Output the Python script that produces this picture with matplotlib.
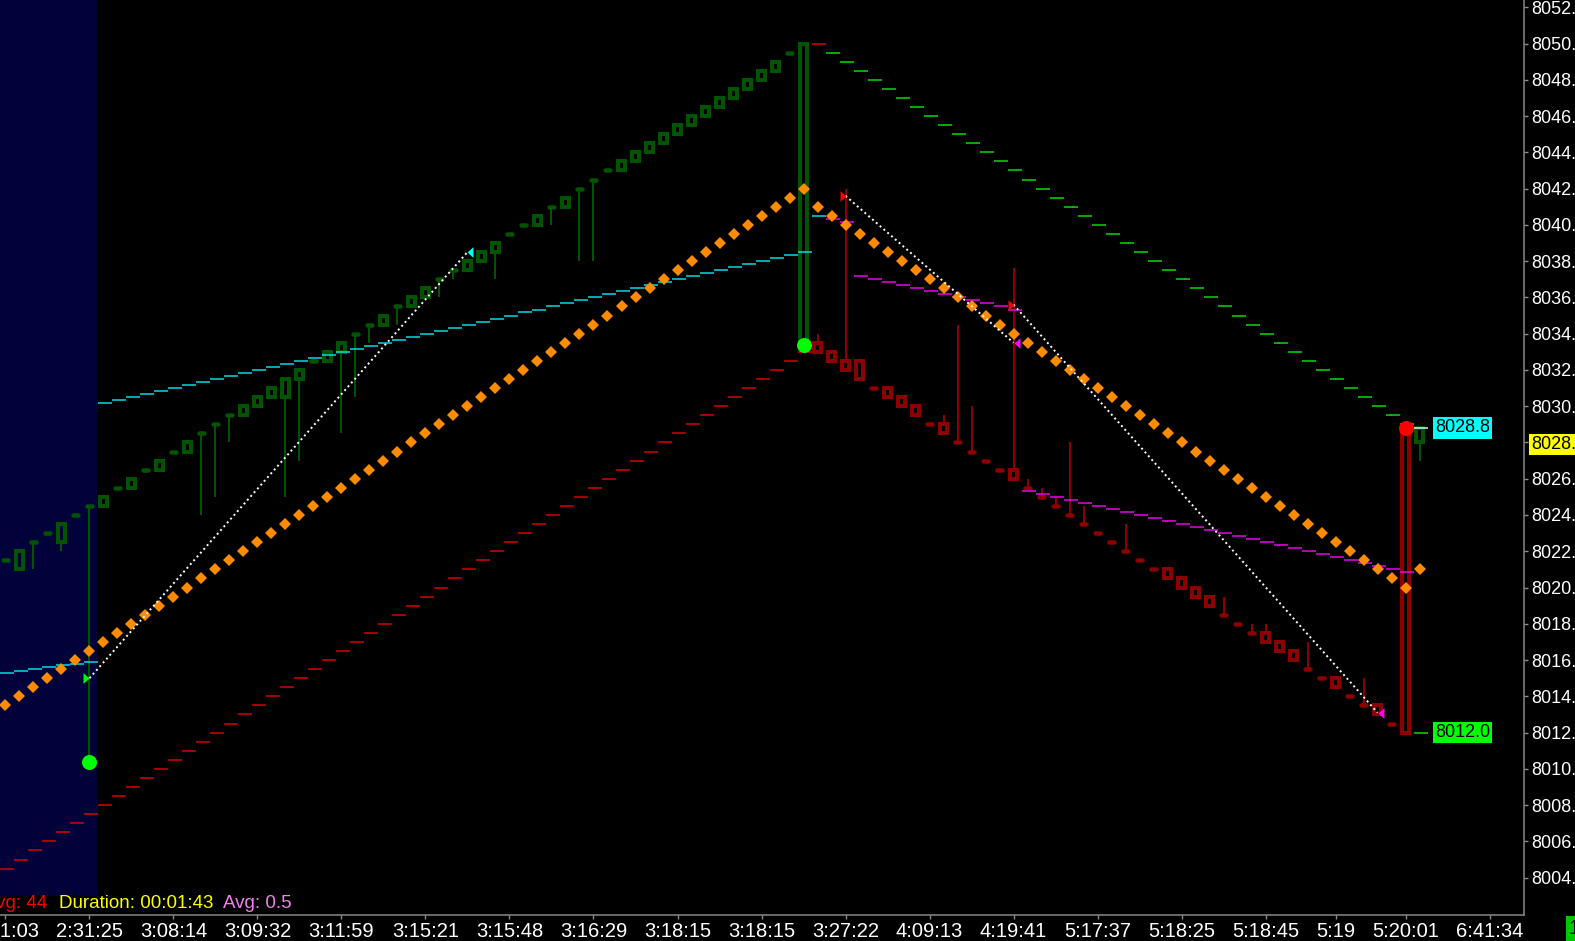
import matplotlib
matplotlib.use("Agg")
import matplotlib.pyplot as plt
from matplotlib.patches import Rectangle

""" -------------------- chart data ---------------------- """
# one candle per bar (bar index = position on the x axis)
bar_open = [8021.5, 8021.0, 8022.5, 8023.0, 8022.5, 8024.0, 8024.5, 8024.5, 8025.5, 8025.5,
            8026.5, 8026.5, 8027.5, 8027.5, 8028.5, 8029.0, 8029.5, 8029.5, 8030.0, 8030.5,
            8030.5, 8031.5, 8032.5, 8032.5, 8033.0, 8034.0, 8034.5, 8034.5, 8035.5, 8035.5,
            8036.0, 8037.0, 8037.5, 8037.5, 8038.0, 8038.5, 8039.5, 8040.0, 8040.0, 8041.0,
            8041.0, 8042.0, 8042.5, 8043.0, 8043.0, 8043.5, 8044.0, 8044.5, 8045.0, 8045.5,
            8046.0, 8046.5, 8047.0, 8047.5, 8048.0, 8048.5, 8049.5, 8033.5, 8033.5, 8033.0,
            8032.5, 8032.5, 8031.0, 8031.0, 8030.5, 8030.0, 8029.0, 8029.0, 8028.0, 8027.5,
            8027.0, 8026.5, 8026.5, 8025.5, 8025.0, 8024.5, 8024.0, 8023.5, 8023.0, 8022.5,
            8022.0, 8021.5, 8021.0, 8021.0, 8020.5, 8020.0, 8019.5, 8018.5, 8018.0, 8017.5,
            8017.5, 8017.0, 8016.5, 8015.5, 8015.0, 8015.0, 8014.0, 8013.5, 8013.5, 8012.5,
            8028.8, 8028.0]
bar_high = [8021.5, 8022.0, 8022.5, 8023.0, 8023.5, 8024.0, 8024.5, 8025.0, 8025.5, 8026.0,
            8026.5, 8027.0, 8027.5, 8028.0, 8028.5, 8029.0, 8029.5, 8030.0, 8030.5, 8031.0,
            8031.5, 8032.0, 8032.5, 8033.0, 8033.5, 8034.0, 8034.5, 8035.0, 8035.5, 8036.0,
            8036.5, 8037.0, 8037.5, 8038.0, 8038.5, 8039.0, 8039.5, 8040.0, 8040.5, 8041.0,
            8041.5, 8042.0, 8042.5, 8043.0, 8043.5, 8044.0, 8044.5, 8045.0, 8045.5, 8046.0,
            8046.5, 8047.0, 8047.5, 8048.0, 8048.5, 8049.0, 8049.5, 8050.0, 8034.0, 8033.0,
            8042.0, 8032.5, 8031.0, 8031.0, 8030.5, 8030.0, 8029.0, 8029.5, 8034.5, 8030.0,
            8027.0, 8026.5, 8037.6, 8026.0, 8025.5, 8025.0, 8028.0, 8024.5, 8023.0, 8022.5,
            8023.5, 8021.5, 8021.0, 8021.0, 8020.5, 8020.0, 8019.5, 8019.5, 8018.0, 8018.0,
            8018.0, 8017.0, 8016.5, 8017.0, 8015.0, 8015.0, 8014.0, 8015.0, 8013.5, 8012.5,
            8028.8, 8028.8]
bar_low = [8021.5, 8021.0, 8021.0, 8023.0, 8022.0, 8024.0, 8010.4, 8024.5, 8025.5, 8025.5,
           8026.5, 8026.5, 8027.5, 8027.5, 8024.0, 8025.0, 8028.0, 8029.5, 8030.0, 8030.5,
           8025.0, 8027.0, 8032.5, 8032.5, 8028.5, 8030.5, 8033.5, 8034.5, 8034.5, 8035.5,
           8036.0, 8036.0, 8037.0, 8037.5, 8038.0, 8037.0, 8039.5, 8040.0, 8040.0, 8040.0,
           8041.0, 8038.0, 8038.0, 8043.0, 8043.0, 8043.5, 8044.0, 8044.5, 8045.0, 8045.5,
           8046.0, 8046.5, 8047.0, 8047.5, 8048.0, 8048.5, 8049.5, 8033.4, 8033.0, 8032.5,
           8032.0, 8031.5, 8031.0, 8030.5, 8030.0, 8029.5, 8029.0, 8028.5, 8028.0, 8027.5,
           8027.0, 8026.5, 8026.0, 8025.5, 8025.0, 8024.5, 8024.0, 8023.5, 8023.0, 8022.5,
           8022.0, 8021.5, 8021.0, 8020.5, 8020.0, 8019.5, 8019.0, 8018.5, 8018.0, 8017.5,
           8017.0, 8016.5, 8016.0, 8015.5, 8015.0, 8014.5, 8014.0, 8013.5, 8013.0, 8012.5,
           8012.0, 8027.0]
bar_close = [8021.5, 8022.0, 8022.5, 8023.0, 8023.5, 8024.0, 8024.5, 8025.0, 8025.5, 8026.0,
             8026.5, 8027.0, 8027.5, 8028.0, 8028.5, 8029.0, 8029.5, 8030.0, 8030.5, 8031.0,
             8031.5, 8032.0, 8032.5, 8033.0, 8033.5, 8034.0, 8034.5, 8035.0, 8035.5, 8036.0,
             8036.5, 8037.0, 8037.5, 8038.0, 8038.5, 8039.0, 8039.5, 8040.0, 8040.5, 8041.0,
             8041.5, 8042.0, 8042.5, 8043.0, 8043.5, 8044.0, 8044.5, 8045.0, 8045.5, 8046.0,
             8046.5, 8047.0, 8047.5, 8048.0, 8048.5, 8049.0, 8049.5, 8050.0, 8033.0, 8032.5,
             8032.0, 8031.5, 8031.0, 8030.5, 8030.0, 8029.5, 8029.0, 8028.5, 8028.0, 8027.5,
             8027.0, 8026.5, 8026.0, 8025.5, 8025.0, 8024.5, 8024.0, 8023.5, 8023.0, 8022.5,
             8022.0, 8021.5, 8021.0, 8020.5, 8020.0, 8019.5, 8019.0, 8018.5, 8018.0, 8017.5,
             8017.0, 8016.5, 8016.0, 8015.5, 8015.0, 8014.5, 8014.0, 8013.5, 8013.0, 8012.5,
             8012.0, 8028.8]

# orange dotted study, one value per bar
orange_dots = [8013.5, 8014.0, 8014.5, 8015.0, 8015.5, 8016.0, 8016.5, 8017.0, 8017.5, 8018.0,
               8018.5, 8019.0, 8019.5, 8020.0, 8020.5, 8021.0, 8021.5, 8022.0, 8022.5, 8023.0,
               8023.5, 8024.0, 8024.5, 8025.0, 8025.5, 8026.0, 8026.5, 8027.0, 8027.5, 8028.0,
               8028.5, 8029.0, 8029.5, 8030.0, 8030.5, 8031.0, 8031.5, 8032.0, 8032.5, 8033.0,
               8033.5, 8034.0, 8034.5, 8035.0, 8035.5, 8036.0, 8036.5, 8037.0, 8037.5, 8038.0,
               8038.5, 8039.0, 8039.5, 8040.0, 8040.5, 8041.0, 8041.5, 8042.0, 8041.0, 8040.5,
               8040.0, 8039.5, 8039.0, 8038.5, 8038.0, 8037.5, 8037.0, 8036.5, 8036.0, 8035.5,
               8035.0, 8034.5, 8034.0, 8033.5, 8033.0, 8032.5, 8032.0, 8031.5, 8031.0, 8030.5,
               8030.0, 8029.5, 8029.0, 8028.5, 8028.0, 8027.5, 8027.0, 8026.5, 8026.0, 8025.5,
               8025.0, 8024.5, 8024.0, 8023.5, 8023.0, 8022.5, 8022.0, 8021.5, 8021.0, 8020.5,
               8020.0, 8021.0]

# lower (red) band, bars 0..57
lower_band_start = 0
lower_band = [8004.5, 8005.0, 8005.5, 8006.0, 8006.5, 8007.0, 8007.5, 8008.0, 8008.5, 8009.0,
              8009.5, 8010.0, 8010.5, 8011.0, 8011.5, 8012.0, 8012.5, 8013.0, 8013.5, 8014.0,
              8014.5, 8015.0, 8015.5, 8016.0, 8016.5, 8017.0, 8017.5, 8018.0, 8018.5, 8019.0,
              8019.5, 8020.0, 8020.5, 8021.0, 8021.5, 8022.0, 8022.5, 8023.0, 8023.5, 8024.0,
              8024.5, 8025.0, 8025.5, 8026.0, 8026.5, 8027.0, 8027.5, 8028.0, 8028.5, 8029.0,
              8029.5, 8030.0, 8030.5, 8031.0, 8031.5, 8032.0, 8032.5, 8033.0]

# upper (green) band, bars 58..100
upper_band_start = 58
upper_band = [8050.0, 8049.5, 8049.0, 8048.5, 8048.0, 8047.5, 8047.0, 8046.5, 8046.0, 8045.5,
              8045.0, 8044.5, 8044.0, 8043.5, 8043.0, 8042.5, 8042.0, 8041.5, 8041.0, 8040.5,
              8040.0, 8039.5, 8039.0, 8038.5, 8038.0, 8037.5, 8037.0, 8036.5, 8036.0, 8035.5,
              8035.0, 8034.5, 8034.0, 8033.5, 8033.0, 8032.5, 8032.0, 8031.5, 8031.0, 8030.5,
              8030.0, 8029.5, 8029.0]

# cyan average, bars 0..58
cyan_start = 0
cyan_line = [8015.3, 8015.4, 8015.5, 8015.6, 8015.7, 8015.8, 8015.9, 8030.17, 8030.33, 8030.50,
             8030.67, 8030.83, 8031.00, 8031.17, 8031.33, 8031.50, 8031.67, 8031.83, 8032.00, 8032.17,
             8032.33, 8032.50, 8032.67, 8032.83, 8033.00, 8033.17, 8033.33, 8033.50, 8033.67, 8033.83,
             8034.00, 8034.17, 8034.33, 8034.50, 8034.67, 8034.83, 8035.00, 8035.17, 8035.33, 8035.50,
             8035.67, 8035.83, 8036.00, 8036.17, 8036.33, 8036.50, 8036.67, 8036.83, 8037.00, 8037.17,
             8037.33, 8037.50, 8037.67, 8037.83, 8038.00, 8038.17, 8038.33, 8038.50, 8040.47]

# magenta average, bars 59..100
magenta_start = 59
magenta_line = [8040.31, 8040.14, 8037.17, 8037.00, 8036.83, 8036.67, 8036.50, 8036.33, 8036.17, 8036.00,
                8035.83, 8035.67, 8035.50, 8035.33, 8025.33, 8025.17, 8025.00, 8024.83, 8024.67, 8024.50,
                8024.33, 8024.17, 8024.00, 8023.83, 8023.67, 8023.50, 8023.33, 8023.17, 8023.00, 8022.83,
                8022.67, 8022.50, 8022.33, 8022.17, 8022.00, 8021.83, 8021.67, 8021.50, 8021.33, 8021.17,
                8021.00, 8020.83]

# swing markers and trend lines
right_tri_bars = [6, 60, 72]
right_tri_prices = [8015.0, 8041.6, 8035.6]
right_tri_colors = ['#00ff00', '#ff0000', '#ff0000']
left_tri_bars = [33, 72, 98]
left_tri_prices = [8038.5, 8033.5, 8013.1]
left_tri_colors = ['#00ffff', '#ff00ff', '#ff00ff']
trend_from = [(6, 8015.0), (60, 8041.6), (72, 8035.6)]
trend_to = [(33, 8038.5), (72, 8033.5), (98, 8013.1)]

dot_bars = [6, 57, 100]
dot_prices = [8010.4, 8033.4, 8028.8]
dot_colors = ['#00ff00', '#00ff00', '#ff0000']

last_price = 8028.8
low_price = 8012.0
highlight_tick = 8028

tick_bars = [0, 6, 12, 18, 24, 30, 36, 42, 48, 54, 60, 66, 72, 78, 84, 90, 95, 100, 106]
tick_labels = ['2:21:03', '2:31:25', '3:08:14', '3:09:32', '3:11:59', '3:15:21', '3:15:48',
               '3:16:29', '3:18:15', '3:18:15', '3:27:22', '4:09:13', '4:19:41', '5:17:37',
               '5:18:25', '5:18:45', '5:19', '5:20:01', '6:41:34']
price_ticks = [8004, 8006, 8008, 8010, 8012, 8014, 8016, 8018, 8020, 8022, 8024, 8026, 8028,
               8030, 8032, 8034, 8036, 8038, 8040, 8042, 8044, 8046, 8048, 8050, 8052]

""" -------------------- style ---------------------- """
W, H = 1575, 941
PX = 0.72  # points per pixel at 100 dpi
plt.rcParams['font.family'] = ['Liberation Sans', 'DejaVu Sans']

UP_COL = '#005400'
DN_COL = '#8c0000'

fig = plt.figure(figsize=(W / 100, H / 100), dpi=100)
fig.set_facecolor('black')
ax = fig.add_axes([0, (H - 915) / H, 1524 / W, 915 / H])
ax.set_facecolor('black')
ax.set_xlim(-0.39, 108.46)
ax.set_ylim(8001.94, 8052.40)

# navy session shading
ax.axvspan(-0.5, 6.55, ymin=(915 - 896) / 915, ymax=1, color='#02023a', zorder=0, lw=0)

""" -------------------- candles ---------------------- """
n = len(bar_close)
for k in range(n):
    o, h, l, c = bar_open[k], bar_high[k], bar_low[k], bar_close[k]
    col = UP_COL if k == 0 or c >= bar_close[k - 1] else DN_COL
    lo_b, hi_b = min(o, c), max(o, c)
    if hi_b > lo_b:
        ax.add_patch(Rectangle((k - 0.25, lo_b), 0.5, hi_b - lo_b, fill=False,
                               ec=col, lw=4 * PX, zorder=2))
    else:
        ax.plot([k - 0.2, k + 0.2], [o, o], color=col, lw=4.5 * PX,
                solid_capstyle='round', zorder=2)
    if h > hi_b:
        ax.vlines(k, hi_b, h, color=col, lw=2 * PX, zorder=2)
    if l < lo_b:
        ax.vlines(k, l, lo_b, color=col, lw=2 * PX, zorder=2)

""" -------------------- bands and averages (one dash per bar) ---------------------- """
def dashes(start, values, color):
    xs = [start + i for i in range(len(values))]
    ax.hlines(values, [x - 0.4 for x in xs], [x + 0.6 for x in xs],
              colors=color, lw=1.5 * PX, zorder=3)

dashes(lower_band_start, lower_band, '#dc0000')
dashes(upper_band_start, upper_band[:1], '#e00000')
dashes(upper_band_start + 1, upper_band[1:], '#00e000')
dashes(cyan_start, cyan_line, '#00e0e8')
dashes(magenta_start, magenta_line, '#f000f0')

# leader lines for the price boxes
dashes(n - 1, [last_price], '#d8ffff')
dashes(n - 1, [low_price], '#00e000')

ax.plot(range(n), orange_dots, 'D', color='#ff8c00', ms=6.2, mew=0, ls='none', zorder=4)

""" -------------------- trend lines and markers ---------------------- """
for (x0, y0), (x1, y1) in zip(trend_from, trend_to):
    ax.plot([x0, x1], [y0, y1], color='white', lw=1.4, ls=(0, (1, 1.6)), zorder=5)

tri_r = [(0, 0), (-1, 0.9), (-1, -0.9), (0, 0)]
tri_l = [(0, 0), (1, 0.9), (1, -0.9), (0, 0)]
for xb, yp, cl in zip(right_tri_bars, right_tri_prices, right_tri_colors):
    ax.plot(xb, yp, marker=tri_r, ms=8.6, color=cl, mew=0, zorder=6)
for xb, yp, cl in zip(left_tri_bars, left_tri_prices, left_tri_colors):
    ax.plot(xb, yp, marker=tri_l, ms=8.6, color=cl, mew=0, zorder=6)

for xb, yp, cl in zip(dot_bars, dot_prices, dot_colors):
    ax.plot(xb, yp, 'o', ms=10.8, color=cl, mew=0, zorder=6)

# price boxes at the right of the last bar
ax.text(n + 0.1, last_price, f'{last_price:.1f}', fontsize=13, color='black',
        va='center', ha='left', zorder=7,
        bbox=dict(boxstyle='square,pad=0.12', fc='#00ffff', ec='none'))
ax.text(n + 0.1, low_price, f'{low_price:.1f}', fontsize=13, color='black',
        va='center', ha='left', zorder=7,
        bbox=dict(boxstyle='square,pad=0.12', fc='#00ff00', ec='none'))

""" -------------------- axes ---------------------- """
for s in ['top', 'left']:
    ax.spines[s].set_visible(False)
for s in ['bottom', 'right']:
    ax.spines[s].set_color('#8a8a8a')
    ax.spines[s].set_linewidth(1.5 * PX)

ax.set_xticks(tick_bars, tick_labels)
ax.tick_params(axis='x', colors='#8a8a8a', labelcolor='white', length=4 * PX, width=1,
               labelsize=14.5, pad=2)

ax.yaxis.tick_right()
ax.set_yticks(price_ticks, [f'{v:.1f}' for v in price_ticks])
ax.tick_params(axis='y', colors='#8a8a8a', labelcolor='white', length=4 * PX, width=1,
               labelsize=13, pad=2)
for lab, v in zip(ax.get_yticklabels(), price_ticks):
    if v == highlight_tick:
        lab.set_color('black')
        lab.set_bbox(dict(boxstyle='square,pad=0.1', fc='#ffff00', ec='none'))

""" -------------------- footer ---------------------- """
fy = 1 - 904 / H
fig.text(47 / W, fy, 'Avg: 44', color='#ff0000', fontsize=13.5, ha='right', va='center')
fig.text(59 / W, fy, 'Duration: 00:01:43', color='#ffff00', fontsize=13.5, ha='left', va='center')
fig.text(223 / W, fy, 'Avg: 0.5', color='#ee82ee', fontsize=13.5, ha='left', va='center')

fig.patches.append(Rectangle((1566 / W, 0), 9 / W, 25 / H, transform=fig.transFigure,
                             fc='#00c800', ec='none'))
fig.text(1569 / W, 12 / H, '1', color='black', fontsize=14.5, ha='left', va='center')

fig.savefig('out.png', dpi=100, facecolor='black')
